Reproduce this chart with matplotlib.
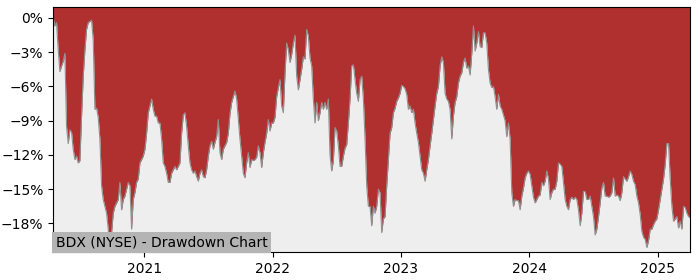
import matplotlib
matplotlib.use("Agg")
import matplotlib.pyplot as plt
import matplotlib.dates as mdates
from matplotlib.ticker import PercentFormatter
import pandas as pd

# drawdown of BDX, in percent, sampled evenly from 2020-04-17 to 2025-04-03
start_date = "2020-04-17"
end_date = "2025-04-03"
drawdown = [
    0.0, -0.7, -0.4, -2.8, -4.7, -4.2, -3.8, -3.1, -9.5, -11.0,
    -9.8, -10.0, -11.5, -12.4, -12.1, -12.7, -12.5, -8.6, -5.1, -2.8,
    -1.0, -0.4, -0.3, -0.2, -1.9, -8.0, -7.9, -8.7, -10.6, -14.7,
    -15.9, -16.5, -17.1, -18.5, -20.3, -18.8, -17.1, -16.5, -16.2, -15.9,
    -14.4, -16.8, -15.9, -15.6, -15.0, -14.4, -14.7, -18.5, -15.9, -15.3,
    -14.4, -14.1, -12.7, -12.4, -12.1, -11.5, -10.1, -8.3, -7.7, -7.1,
    -8.0, -8.6, -8.6, -9.2, -9.2, -10.6, -12.7, -13.0, -13.6, -14.4,
    -14.4, -13.6, -13.3, -13.0, -13.3, -13.0, -12.7, -10.1, -8.5, -8.3,
    -9.5, -11.2, -12.7, -13.3, -13.6, -13.4, -13.9, -14.3, -13.6, -13.3,
    -13.9, -14.0, -13.3, -12.1, -11.2, -10.8, -11.5, -10.9, -10.4, -8.9,
    -11.8, -12.4, -11.5, -11.2, -10.9, -10.1, -8.4, -7.4, -6.9, -6.4,
    -7.1, -8.9, -10.6, -12.1, -13.6, -14.0, -12.7, -11.8, -13.1, -12.4,
    -12.5, -12.4, -12.2, -11.2, -11.8, -13.1, -11.8, -10.9, -10.1, -8.9,
    -9.9, -9.2, -9.2, -8.7, -6.9, -6.1, -5.4, -7.7, -8.3, -4.8,
    -2.2, -2.8, -3.9, -3.2, -2.2, -1.5, -5.1, -6.3, -5.4, -4.5,
    -3.4, -3.6, -1.0, -1.6, -3.5, -4.2, -7.1, -9.2, -7.4, -9.0,
    -8.3, -7.4, -8.0, -7.4, -8.0, -7.1, -12.0, -13.4, -12.5, -9.6,
    -9.9, -11.2, -13.0, -13.0, -12.1, -11.4, -11.1, -9.2, -7.1, -4.2,
    -4.1, -5.4, -6.6, -7.3, -5.4, -5.1, -7.1, -10.6, -14.7, -16.5,
    -16.5, -18.2, -16.5, -17.1, -16.5, -15.0, -15.3, -18.8, -17.6, -17.4,
    -14.7, -12.4, -10.1, -9.6, -8.3, -7.9, -7.3, -7.0, -6.6, -5.9,
    -6.0, -6.2, -6.7, -8.0, -7.7, -8.3, -8.0, -9.2, -10.1, -10.9,
    -12.1, -13.3, -13.6, -14.3, -13.3, -12.4, -11.2, -10.1, -8.9, -7.7,
    -6.6, -6.0, -4.2, -3.4, -3.9, -6.6, -7.1, -7.3, -8.0, -10.6,
    -8.6, -7.4, -6.9, -5.7, -5.1, -4.8, -3.9, -3.5, -4.4, -4.2,
    -5.0, -3.1, -0.7, -2.9, -2.2, -1.2, -2.5, -2.6, -1.3, -1.3,
    -2.2, -4.5, -5.7, -6.1, -6.0, -6.9, -8.0, -6.7, -7.7, -8.0,
    -8.5, -9.0, -10.4, -9.2, -10.6, -15.3, -16.5, -15.9, -16.0, -16.0,
    -16.8, -15.6, -14.9, -14.0, -13.6, -13.4, -13.7, -14.7, -15.7, -16.2,
    -15.9, -15.6, -15.5, -14.4, -14.7, -14.3, -13.4, -14.1, -15.9, -15.3,
    -15.0, -15.0, -14.3, -12.7, -12.8, -13.0, -14.4, -15.9, -16.5, -16.8,
    -15.9, -15.7, -15.9, -15.7, -15.9, -16.8, -18.2, -17.1, -15.2, -15.2,
    -15.9, -15.9, -15.6, -16.5, -17.4, -19.0, -18.5, -17.4, -16.2, -14.9,
    -14.4, -15.6, -15.6, -15.7, -15.6, -15.3, -14.0, -15.6, -15.5, -15.6,
    -16.0, -15.3, -13.9, -14.1, -14.3, -13.9, -13.4, -13.7, -14.3, -14.6,
    -15.6, -16.2, -17.2, -18.7, -19.2, -19.4, -20.1, -19.5, -18.5, -18.5,
    -18.1, -17.8, -17.6, -16.8, -15.9, -15.0, -14.1, -12.8, -11.0, -11.0,
    -14.1, -16.5, -17.8, -17.6, -17.4, -18.4, -17.8, -18.5, -16.5, -16.6,
    -17.1, -17.4, -17.5,
]
title = "BDX (NYSE) - Drawdown Chart"

dates = pd.date_range(start_date, end_date, periods=len(drawdown))

fig = plt.figure(figsize=(7, 2.8), dpi=100)
ax = fig.add_axes([0.076, 0.1, 0.91, 0.875])
ax.set_facecolor("#eeeeee")

y_bottom, y_top = -20.5, 0.96
# red area runs from the drawdown line up to the top of the plot
ax.fill_between(dates, drawdown, y_top, color="#b03030", linewidth=0)
ax.plot(dates, drawdown, color="#909090", linewidth=0.8)

ax.set_xlim(dates[0], dates[-1])
ax.set_ylim(y_bottom, y_top)
ax.set_yticks([0, -3, -6, -9, -12, -15, -18])
ax.yaxis.set_major_formatter(PercentFormatter(decimals=0))
ax.xaxis.set_major_locator(mdates.YearLocator())
ax.xaxis.set_major_formatter(mdates.DateFormatter("%Y"))
ax.tick_params(labelsize=10)

ax.text(0.004, 0.012, title, transform=ax.transAxes, fontsize=10,
        ha="left", va="bottom",
        bbox=dict(facecolor="#b4b4b4", edgecolor="none", pad=2.5))

fig.savefig("out.png", dpi=100)
